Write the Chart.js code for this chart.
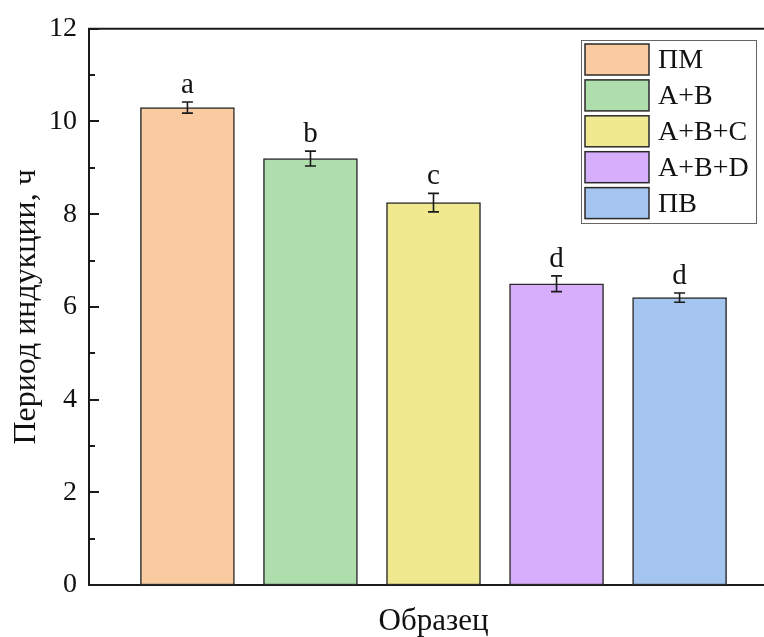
<!DOCTYPE html>
<html>
<head>
<meta charset="utf-8">
<script src="https://cdn.jsdelivr.net/npm/chart.js@4/dist/chart.umd.min.js"></script>
<style>
  html, body { margin: 0; padding: 0; background: #fff; overflow: hidden; }
  #wrap { width: 764px; height: 637px; overflow: hidden; }
</style>
</head>
<body>
<div id="wrap"><canvas id="c" width="800" height="637"></canvas></div>
<script>
// Samples and measured induction periods (hours)
const categories = ['ПМ', 'A+B', 'A+B+C', 'A+B+D', 'ПВ'];
const values = [10.3, 9.2, 8.25, 6.5, 6.2];
const errors = [0.12, 0.16, 0.2, 0.17, 0.1];
const groupLetters = ['a', 'b', 'c', 'd', 'd'];
const barColors = ['#FACBA0', '#ADDEAC', '#F0E98F', '#D7AEFB', '#A5C5F1'];

const yMin = 0, yMax = 12, yStep = 1;
const yLabelStep = 2;
const xTitle = 'Образец';
const yTitle = 'Период индукции, ч';

const FONT = "'Liberation Serif', 'DejaVu Serif', serif";
const INK = '#1a1a1a';

// Error bars and significance letters above each bar
const errorBarPlugin = {
  id: 'errorBars',
  afterDatasetsDraw(chart) {
    const ctx = chart.ctx;
    const meta = chart.getDatasetMeta(0);
    const ys = chart.scales.y;
    ctx.save();
    ctx.strokeStyle = INK;
    ctx.lineWidth = 1.6;
    meta.data.forEach((bar, i) => {
      const x = bar.x;
      const top = ys.getPixelForValue(values[i] + errors[i]);
      const bot = ys.getPixelForValue(values[i] - errors[i]);
      ctx.beginPath();
      ctx.moveTo(x, top); ctx.lineTo(x, bot);
      ctx.moveTo(x - 5.5, top); ctx.lineTo(x + 5.5, top);
      ctx.moveTo(x - 5.5, bot); ctx.lineTo(x + 5.5, bot);
      ctx.stroke();
      ctx.fillStyle = '#111';
      ctx.font = '29px ' + FONT;
      ctx.textAlign = 'center';
      ctx.textBaseline = 'alphabetic';
      ctx.fillText(groupLetters[i], x, top - 9);
    });
    ctx.restore();
  }
};

// Frame top line, inward major/minor ticks, axis titles and legend
const framePlugin = {
  id: 'frame',
  afterDraw(chart) {
    const ctx = chart.ctx;
    const area = chart.chartArea;
    const ys = chart.scales.y;
    ctx.save();
    ctx.strokeStyle = INK;
    ctx.lineWidth = 2;
    ctx.beginPath();
    ctx.moveTo(area.left - 1, area.top);
    ctx.lineTo(area.right, area.top);
    ctx.stroke();
    for (let v = yMin; v <= yMax; v += yStep) {
      const y = Math.round(ys.getPixelForValue(v));
      const len = (v % yLabelStep === 0) ? 10 : 6;
      ctx.beginPath();
      ctx.moveTo(area.left, y);
      ctx.lineTo(area.left + len, y);
      ctx.stroke();
    }

    // axis titles
    ctx.fillStyle = '#111';
    ctx.font = '31px ' + FONT;
    ctx.textAlign = 'center';
    ctx.textBaseline = 'alphabetic';
    ctx.fillText(xTitle, (area.left + area.right) / 2, 630);
    ctx.save();
    ctx.font = '32px ' + FONT;
    ctx.translate(35, (area.top + area.bottom) / 2);
    ctx.rotate(-Math.PI / 2);
    ctx.fillText(yTitle, 0, 0);
    ctx.restore();

    // legend
    const lx = 581, ly = 40, lw = 175, lh = 183;
    ctx.strokeStyle = '#666';
    ctx.lineWidth = 1;
    ctx.strokeRect(lx + 0.5, ly + 0.5, lw, lh);
    ctx.font = '28px ' + FONT;
    ctx.textAlign = 'left';
    ctx.textBaseline = 'middle';
    categories.forEach((name, i) => {
      const sy = ly + 4 + i * 35.9;
      ctx.fillStyle = barColors[i];
      ctx.fillRect(lx + 4, sy, 64, 31);
      ctx.strokeStyle = '#2a2a2a';
      ctx.lineWidth = 1.5;
      ctx.strokeRect(lx + 4, sy, 64, 31);
      ctx.fillStyle = '#111';
      ctx.fillText(name, lx + 77, sy + 17);
    });
    ctx.restore();
  }
};

new Chart(document.getElementById('c'), {
  type: 'bar',
  data: {
    datasets: [{
      data: values.map((v, i) => ({ x: i, y: v })),
      backgroundColor: barColors,
      borderColor: '#2a2a2a',
      borderWidth: 1.5,
      borderSkipped: false,
      barThickness: 94
    }]
  },
  options: {
    responsive: false,
    animation: false,
    devicePixelRatio: 1,
    layout: { padding: { top: 28, right: 22, left: 0, bottom: 0 } },
    plugins: { legend: { display: false }, tooltip: { enabled: false } },
    scales: {
      x: {
        type: 'linear',
        offset: false,
        min: -0.8,
        max: 4.8,
        grid: { display: false, drawTicks: false, offset: false },
        border: { display: true, color: INK, width: 2 },
        ticks: { display: false },
        afterFit(scale) { scale.height = 52; }
      },
      y: {
        min: yMin,
        max: yMax,
        grid: { display: false, drawTicks: false },
        border: { display: true, color: INK, width: 2 },
        ticks: {
          stepSize: yStep,
          padding: 12,
          color: '#111',
          font: { family: FONT, size: 28 },
          autoSkip: false,
          callback: (v) => (v % yLabelStep === 0 ? String(v) : '')
        },
        afterFit(scale) { scale.width = 89; }
      }
    }
  },
  plugins: [errorBarPlugin, framePlugin]
});
</script>
</body>
</html>
